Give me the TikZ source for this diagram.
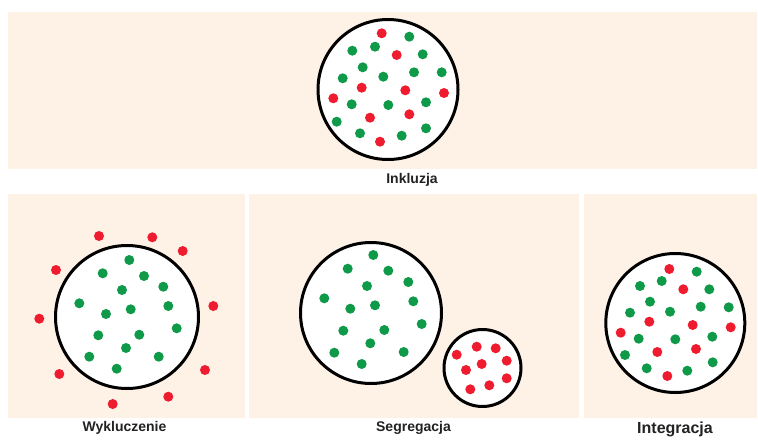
\documentclass[tikz,border=0pt]{standalone}
\usepackage{fontspec}
\setmainfont{Liberation Sans}
\definecolor{panelbg}{HTML}{FEF1E6}
\definecolor{dotred}{HTML}{EE1C2E}
\definecolor{dotgreen}{HTML}{0E9A48}
\definecolor{labeltext}{HTML}{222222}
\tikzset{
  panel/.style={fill=panelbg, draw=none},
  group/.style={draw=black, line width=3pt, fill=white},
  rdot/.style={fill=dotred},
  gdot/.style={fill=dotgreen},
  lbl/.style={anchor=base, inner sep=0pt, text=labeltext, font=\bfseries\fontsize{14}{16}\selectfont},
}
\begin{document}
\begin{tikzpicture}[x=1pt,y=-1pt]
\useasboundingbox (0,0) rectangle (758,442);
\fill[white] (0,0) rectangle (758,442);
% panels
\fill[panel] (8,12) rectangle (757,169);
\fill[panel] (8,194) rectangle (245,418);
\fill[panel] (249,194) rectangle (579,418);
\fill[panel] (584,194) rectangle (757,418);

% ---------- Inkluzja ----------
\draw[group] (388,89.5) circle (70);
\foreach \x/\y in {381.7/33.3,396.7/55,361.7/87.7,333.3/98.3,405.3/90.3,444/93,370/117.7,409.3/114.3,380/141.7}
  \fill[rdot] (\x,\y) circle (5);
\foreach \x/\y in {409.3/36.7,352.3/50.7,375/46.7,422.7/54.3,362.7/67.3,342.7/78.3,383.3/76.7,414/72.3,441.7/72.3,351.7/104.3,388.3/105,426/102.3,336.7/121.7,360/133.3,401.7/135.7,426/128.3}
  \fill[gdot] (\x,\y) circle (5);
\node[lbl] (inkluzja) at (412,183) {Inkluzja};

% ---------- Wykluczenie ----------
\draw[group] (127,317) circle (71.5);
\foreach \x/\y in {129.3/260,102.7/273.3,144/276,163.3/286.7,122/290,79.3/303.3,168.3/306,106/314,130.7/309.3,176.7/328.3,98.3/335.3,139.3/334.7,126/348,89.3/356.7,158.7/356.7,116.7/368.7}
  \fill[gdot] (\x,\y) circle (5);
\foreach \x/\y in {99/236,152.3/237.3,182.7/251,56/270,213.3/306,39.3/318.7,59.3/374,205/370,168.3/396.7,112.7/404}
  \fill[rdot] (\x,\y) circle (5);
\node[lbl] (wykluczenie) at (124.5,431) {Wykluczenie};

% ---------- Segregacja ----------
\draw[group] (371,313) circle (70.5);
\foreach \x/\y in {373.3/255,347.7/268.7,388.3/270.7,408.3/282,367/286,324.3/298.3,413.3/301.3,350.3/308.7,375/305.3,421.7/324,343.3/330.7,384.3/330,370.3/343.3,334.3/352.7,403.7/352,361.7/364}
  \fill[gdot] (\x,\y) circle (5);
\draw[group] (482.5,368) circle (38.5);
\foreach \x/\y in {456.7/354.7,476.7/346.7,495.7/348.3,506.7/360.7,481.7/364,466/370,506.7/378.3,470.3/389.3,489.3/385.3}
  \fill[rdot] (\x,\y) circle (5);
\node[lbl] (segregacja) at (413.5,431) {Segregacja};

% ---------- Integracja ----------
\draw[group] (675.3,323) circle (69.5);
\foreach \x/\y in {669.3/269,683.3/289.3,649.3/321.7,692.7/325,730.7/327.3,620.7/332.7,657.3/352,696/349,667.3/376}
  \fill[rdot] (\x,\y) circle (5);
\foreach \x/\y in {696.7/271.7,640/286,661.7/281,709.3/289.3,650/301.7,630/312.7,670/311.7,700.7/306.7,728.7/307.3,638.7/338.7,675.3/339.3,712.3/336.7,625/355,646.7/368.3,687.3/370.7,712.7/362.3}
  \fill[gdot] (\x,\y) circle (5);
\node[lbl, font=\bfseries\fontsize{16}{18}\selectfont] (integracja) at (675,433) {Integracja};
\end{tikzpicture}
\end{document}
